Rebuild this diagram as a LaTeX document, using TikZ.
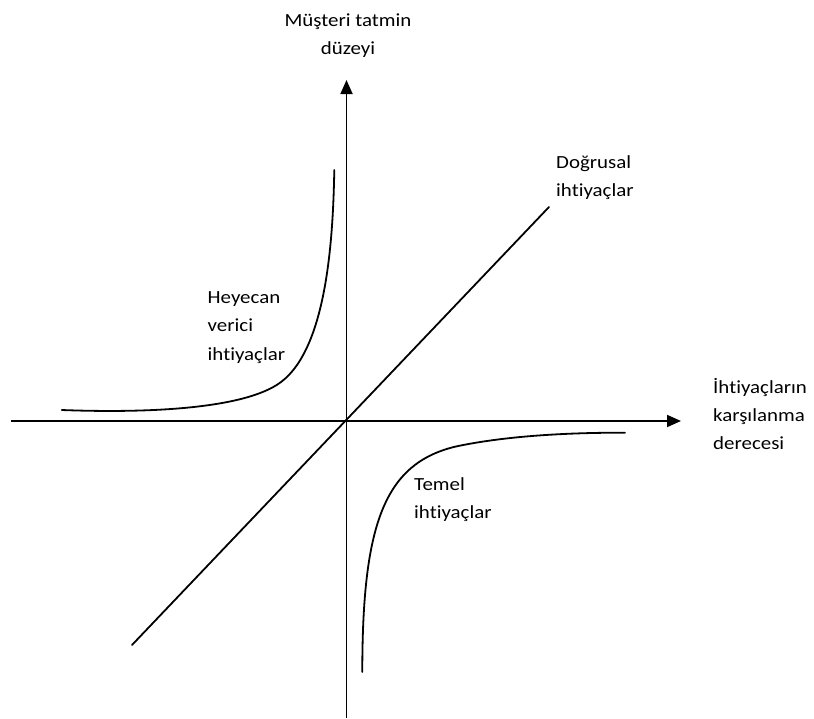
\documentclass[tikz,border=0pt]{standalone}
\usepackage{fontspec}
\setmainfont[Ligatures={NoCommon}]{Carlito}
\usetikzlibrary{arrows.meta}
\newcommand{\lbl}[1]{\scalebox{1.13}[1]{\fontsize{18.5}{28.4}\selectfont\begin{tabular}[t]{@{}l@{}}#1\end{tabular}}}
\newcommand{\lblc}[1]{\scalebox{1.13}[1]{\fontsize{18.5}{27.5}\selectfont\begin{tabular}[t]{@{}c@{}}#1\end{tabular}}}
\tikzset{
  axis/.style={line width=1.8pt, -{Triangle[length=14pt,width=12pt]}},
  curve/.style={line width=1.8pt, line cap=round},
  lab/.style={inner sep=0pt, anchor=base west},
}
\begin{document}
\begin{tikzpicture}[x=1pt,y=-1pt]
\useasboundingbox (0,0) rectangle (814,718);
% axes
\coordinate (xs) at (11,421);
\coordinate (xe) at (681,421);
\coordinate (ys) at (346.5,718);
\coordinate (ye) at (346.5,80);
\draw[axis] (xs) -- (xe);
\draw[axis] (ys) -- (ye);
% linear needs
\coordinate (ds) at (132,645);
\coordinate (de) at (549,207);
\draw[curve] (ds) -- (de);
% excitement needs
\coordinate (h0) at (61.7,410);
\coordinate (h1) at (276.7,385);
\coordinate (h2) at (334.3,170);
\draw[curve] (h0) .. controls (140,413) and (236.7,410) .. (h1)
                  .. controls (326.7,354) and (333,240) .. (h2);
% basic needs
\coordinate (t0) at (362.3,672);
\coordinate (t1) at (455,446.7);
\coordinate (t2) at (625,432.7);
\draw[curve] (t0) .. controls (362.3,525) and (384,464) .. (t1)
                  .. controls (500,436.9) and (560,432.5) .. (t2);
% labels
\node[inner sep=0pt, anchor=base] (ylab) at (348,26.7) {\lblc{Müşteri tatmin\\düzeyi}};
\node[lab] (xlab) at (713,393) {\lbl{İhtiyaçların\\karşılanma\\derecesi}};
\node[lab] (dlab) at (556,168.3) {\lbl{Doğrusal\\ihtiyaçlar}};
\node[lab] (hlab) at (207.5,303.3) {\lbl{Heyecan\\verici\\ihtiyaçlar}};
\node[lab] (tlab) at (414,490) {\lbl{Temel\\ihtiyaçlar}};
\end{tikzpicture}
\end{document}
